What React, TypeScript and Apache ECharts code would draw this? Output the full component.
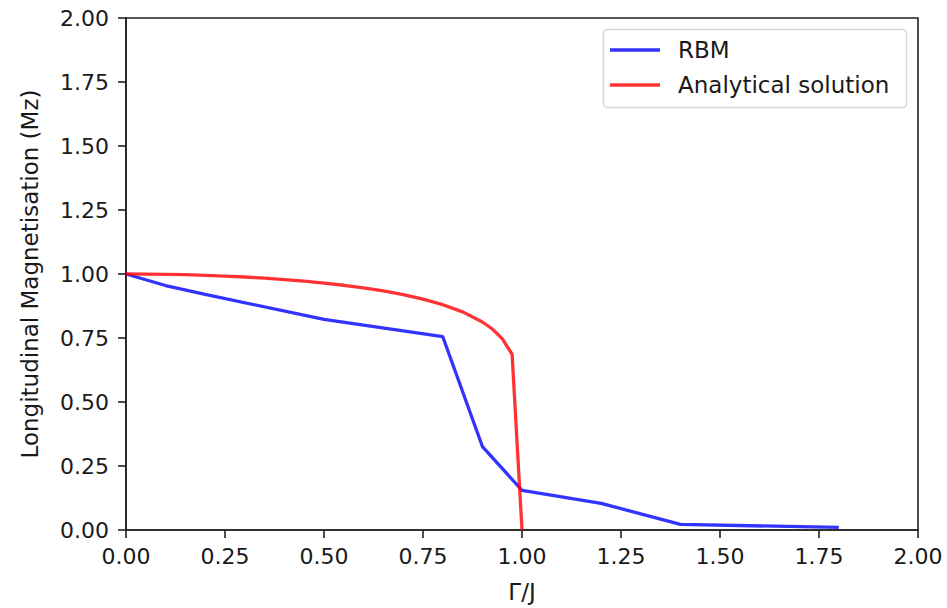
import React, { useEffect, useRef } from "react";
import * as echarts from "echarts";

const seriesNames = ["RBM", "Analytical solution"];

const rbmX = [0, 0.1, 0.2, 0.5, 0.8, 0.9, 1.0, 1.2, 1.4, 1.8];
const rbmY = [1.0, 0.955, 0.92, 0.823, 0.755, 0.326, 0.155, 0.104, 0.022, 0.01];

const anaX = [0, 0.05, 0.1, 0.15, 0.2, 0.25, 0.3, 0.35, 0.4, 0.45, 0.5, 0.55, 0.6, 0.65, 0.7, 0.75, 0.8, 0.85, 0.9, 0.925, 0.95, 0.975, 1.0];
const anaY = [1.0, 0.9997, 0.9987, 0.9972, 0.9949, 0.992, 0.9883, 0.9838, 0.9784, 0.9721, 0.9647, 0.956, 0.9457, 0.9337, 0.9193, 0.9018, 0.8801, 0.852, 0.8125, 0.7851, 0.7475, 0.6865, 0.0];

const xTicks = [0, 0.25, 0.5, 0.75, 1.0, 1.25, 1.5, 1.75, 2.0];
const yTicks = [0, 0.25, 0.5, 0.75, 1.0, 1.25, 1.5, 1.75, 2.0];

const xLabel = "Γ/J";
const yLabel = "Longitudinal Magnetisation (Mz)";

const FONT = "DejaVu Sans";
const BLUE = "rgba(0,0,255,0.8)";
const RED = "rgba(255,0,0,0.8)";
const TEXT = "#1a1a1a";

export default function App() {
  const ref = useRef<HTMLDivElement>(null);
  useEffect(() => {
    if (!ref.current) return;
    const chart = echarts.init(ref.current, undefined, { renderer: "svg" });
    const L = 126, T = 18, W = 792, H = 517;
    const axisCommon = {
      min: xTicks[0],
      max: xTicks[xTicks.length - 1],
      interval: 0.25,
      axisLine: { show: true, onZero: false, lineStyle: { color: "#222", width: 1.6 } },
      axisTick: { show: true, inside: false, length: 8, lineStyle: { color: "#222", width: 1.6 } },
      splitLine: { show: false },
      axisLabel: {
        color: TEXT,
        fontFamily: FONT,
        fontSize: 22,
        margin: 15,
        formatter: (v: number) => v.toFixed(2),
      },
      nameLocation: "middle" as const,
      nameTextStyle: { color: TEXT, fontFamily: FONT, fontSize: 23 },
    };
    chart.setOption({
      animation: false,
      grid: {
        left: L,
        top: T,
        width: W,
        height: H,
        show: true,
        borderColor: "#222",
        borderWidth: 1.6,
        backgroundColor: "transparent",
      },
      xAxis: {
        type: "value",
        ...axisCommon,
        name: xLabel,
        nameGap: 50,
      },
      yAxis: {
        type: "value",
        ...axisCommon,
        min: yTicks[0],
        max: yTicks[yTicks.length - 1],
        axisLabel: { ...axisCommon.axisLabel, margin: 17 },
        name: yLabel,
        nameGap: 85,
      },
      series: [
        {
          name: seriesNames[0],
          type: "line",
          showSymbol: false,
          data: rbmX.map((x, i) => [x, rbmY[i]]),
          lineStyle: { color: BLUE, width: 3.3 },
          itemStyle: { color: BLUE },
        },
        {
          name: seriesNames[1],
          type: "line",
          showSymbol: false,
          data: anaX.map((x, i) => [x, anaY[i]]),
          lineStyle: { color: RED, width: 3.3 },
          itemStyle: { color: RED },
        },
      ],
      graphic: [
        {
          type: "rect",
          shape: { x: 603.5, y: 29.5, width: 303, height: 78, r: 4 },
          style: { fill: "rgba(255,255,255,0.8)", stroke: "#d5d5d5", lineWidth: 1.5 },
          z: 100,
        },
        {
          type: "line",
          shape: { x1: 610, y1: 50, x2: 660, y2: 50 },
          style: { stroke: BLUE, lineWidth: 3.3 },
          z: 101,
        },
        {
          type: "text",
          x: 678,
          y: 50,
          style: { text: seriesNames[0], fill: TEXT, font: `23px "${FONT}"`, verticalAlign: "middle" },
          z: 101,
        },
        {
          type: "line",
          shape: { x1: 610, y1: 85, x2: 660, y2: 85 },
          style: { stroke: RED, lineWidth: 3.3 },
          z: 101,
        },
        {
          type: "text",
          x: 678,
          y: 85,
          style: { text: seriesNames[1], fill: TEXT, font: `23px "${FONT}"`, verticalAlign: "middle" },
          z: 101,
        },
      ],
    });
    return () => chart.dispose();
  }, []);
  return (
    <div
      ref={ref}
      style={{ position: "absolute", left: 0, top: 0, width: 947, height: 608, background: "#fff" }}
    />
  );
}
